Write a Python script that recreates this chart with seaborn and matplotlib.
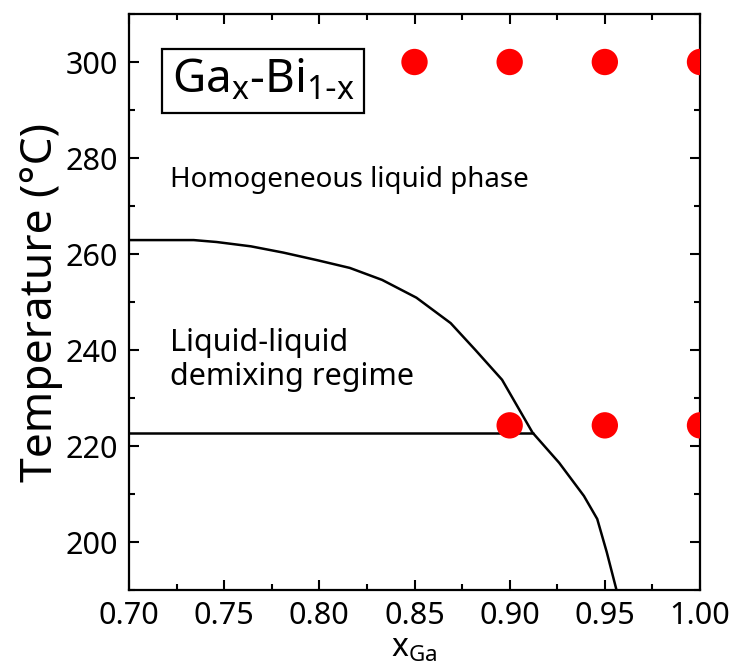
import matplotlib
matplotlib.use("Agg")
import matplotlib.pyplot as plt
import seaborn as sns
import pandas as pd
from matplotlib.ticker import MultipleLocator, FormatStrFormatter

# ---- data ----
curve_x = [0.700, 0.734, 0.746, 0.764, 0.781, 0.799, 0.816, 0.833, 0.851,
           0.869, 0.882, 0.896, 0.912, 0.926, 0.939, 0.946, 0.951, 0.956]
curve_T = [262.9, 262.9, 262.5, 261.6, 260.3, 258.7, 257.1, 254.6, 250.9,
           245.6, 240.0, 233.8, 222.8, 216.5, 209.6, 204.8, 197.9, 190.2]
eutectic_x = [0.700, 0.912]
eutectic_T = [222.8, 222.8]
pts_x = [0.85, 0.90, 0.95, 1.00, 0.90, 0.95, 1.00]
pts_T = [300, 300, 300, 300, 224.3, 224.3, 224.3]
x_ticks = [0.70, 0.75, 0.80, 0.85, 0.90, 0.95, 1.00]
y_ticks = [200, 220, 240, 260, 280, 300]

sns.set_theme(style="ticks")
plt.rcParams['font.family'] = ['Noto Sans', 'DejaVu Sans']
plt.rcParams['text.color'] = 'black'
plt.rcParams['axes.labelcolor'] = 'black'

fig = plt.figure(figsize=(7.33, 6.66), dpi=100)
ax = fig.add_axes([129/733, 1 - 590/666, (700-129)/733, (590-14)/666])

curve = pd.DataFrame({"x": curve_x, "T": curve_T})
eut = pd.DataFrame({"x": eutectic_x, "T": eutectic_T})
pts = pd.DataFrame({"x": pts_x, "T": pts_T})

sns.lineplot(data=curve, x="x", y="T", color="black", lw=1.8, sort=False,
             estimator=None, ax=ax)
sns.lineplot(data=eut, x="x", y="T", color="black", lw=1.8, sort=False,
             estimator=None, ax=ax)
sns.scatterplot(data=pts, x="x", y="T", color="#ff0000", s=360,
                edgecolor="none", ax=ax, zorder=5)

ax.set_xlim(0.70, 1.00)
ax.set_ylim(190, 310)
ax.set_xticks(x_ticks)
ax.set_yticks(y_ticks)
ax.xaxis.set_major_formatter(FormatStrFormatter("%.2f"))
ax.xaxis.set_minor_locator(MultipleLocator(0.025))
ax.yaxis.set_minor_locator(MultipleLocator(10))
ax.tick_params(which="both", direction="in", top=True, right=True,
               width=1.5, color="black", labelsize=22, labelcolor="black")
ax.tick_params(which="major", length=7, pad=8)
ax.tick_params(which="minor", length=4)
for s in ax.spines.values():
    s.set_linewidth(1.6)
    s.set_color("black")

ax.set_xlabel(r"x$_{\mathregular{Ga}}$", fontsize=23, labelpad=0)
ax.set_ylabel("Temperature (°C)", fontsize=32, labelpad=2)

ax.text(0.7224, 293.6, r"Ga$_{\mathregular{x}}$-Bi$_{\mathregular{1\text{-}x}}$",
        fontsize=33, ha="left", va="baseline",
        bbox=dict(boxstyle="square,pad=0.2", fc="white", ec="black", lw=1.6))
ax.text(0.7215, 273.9, "Homogeneous liquid phase", fontsize=20,
        ha="left", va="baseline")
ax.text(0.7215, 239.7, "Liquid-liquid", fontsize=22, ha="left", va="baseline")
ax.text(0.7215, 232.8, "demixing regime", fontsize=22, ha="left", va="baseline")

fig.savefig("out.png", dpi=100)
